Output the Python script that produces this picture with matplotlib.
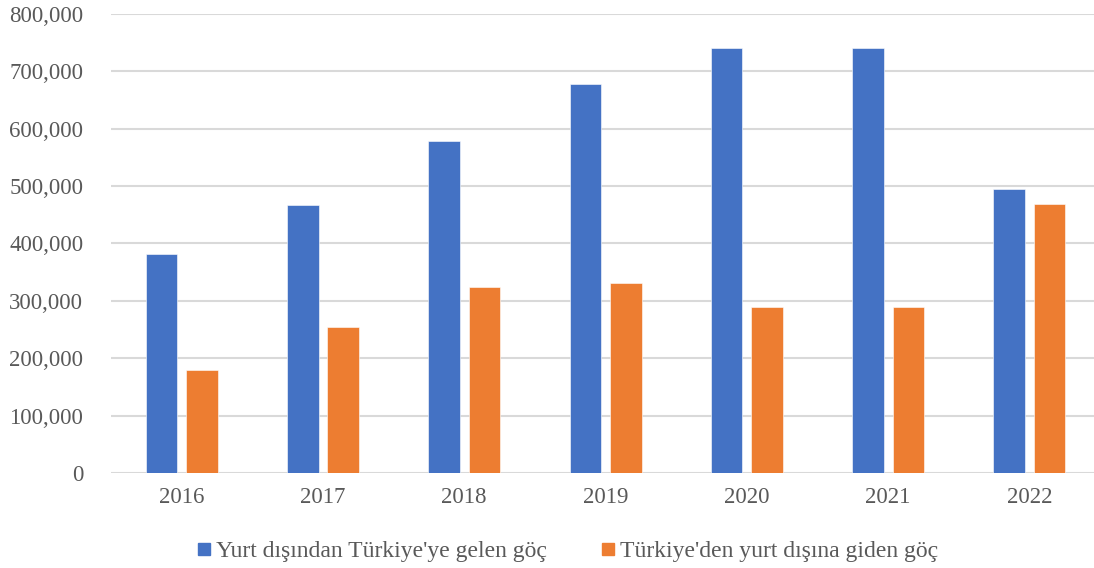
import matplotlib.pyplot as plt
import numpy as np
from matplotlib.lines import Line2D
from matplotlib.ticker import FuncFormatter

years = ["2016", "2017", "2018", "2019", "2020", "2021", "2022"]
gelen = [382000, 467000, 579000, 678000, 741000, 741000, 495000]
giden = [179000, 255000, 325000, 332000, 289000, 289000, 468000]
labels = ["Yurt dışından Türkiye'ye gelen göç", "Türkiye'den yurt dışına giden göç"]
colors = ["#4472C4", "#ED7D31"]

plt.rcParams["font.family"] = ["Liberation Serif", "DejaVu Serif"]
text_color = "#595959"

fig = plt.figure(figsize=(10.94, 5.68), dpi=100)
ax = fig.add_axes([111 / 1094, 1 - 473 / 568, 1 - 111 / 1094, (473 - 14) / 568])

x = np.arange(len(years))
w = 0.224
off = 0.143
ax.bar(x - off, gelen, w, color=colors[0], edgecolor="white", linewidth=0.4, zorder=3)
ax.bar(x + off, giden, w, color=colors[1], edgecolor="white", linewidth=0.4, zorder=3)

ax.set_ylim(0, 800000)
ax.set_xlim(-0.5, 6.457)
ax.set_yticks(np.arange(0, 800001, 100000))
ax.yaxis.set_major_formatter(FuncFormatter(lambda v, p: f"{int(v):,}"))
ax.set_xticks(x)
ax.set_xticklabels(years)
ax.grid(axis="y", color="#D9D9D9", linewidth=1.5, zorder=0)
for s in ax.spines.values():
    s.set_visible(False)
ax.tick_params(axis="both", length=0, labelsize=16.5, colors=text_color)
ax.tick_params(axis="y", pad=20)
ax.tick_params(axis="x", pad=10)

handles = [Line2D([], [], marker="s", linestyle="none", markersize=8,
                  markerfacecolor=c, markeredgecolor=c) for c in colors]
leg = fig.legend(handles, labels, loc="center", bbox_to_anchor=(566 / 1094, 1 - 551 / 568),
                 ncol=2, frameon=False, fontsize=17, handletextpad=0.1,
                 columnspacing=2.2, handlelength=0.8)
for t in leg.get_texts():
    t.set_color(text_color)

fig.savefig("out.png", dpi=100)
